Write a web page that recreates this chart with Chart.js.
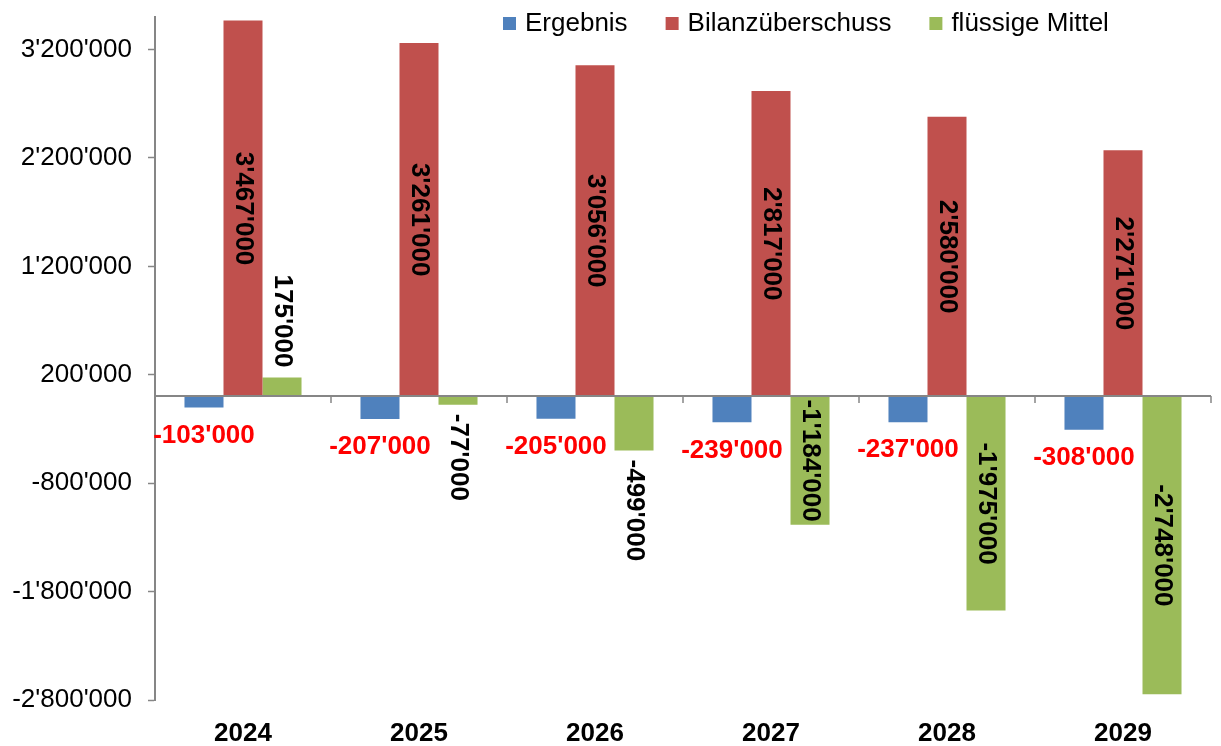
<!DOCTYPE html>
<html>
<head>
<meta charset="utf-8">
<script src="https://cdn.jsdelivr.net/npm/chart.js@4/dist/chart.umd.min.js"></script>
<style>
  html, body { margin: 0; padding: 0; background: #ffffff; }
  #wrap { width: 1221px; height: 746px; }
</style>
</head>
<body>
<div id="wrap"><canvas id="c" width="1221" height="746"></canvas></div>
<script>
const categories = ['2024', '2025', '2026', '2027', '2028', '2029'];
const seriesNames = ['Ergebnis', 'Bilanzüberschuss', 'flüssige Mittel'];
const ergebnis = [-103000, -207000, -205000, -239000, -237000, -308000];
const bilanzueberschuss = [3467000, 3261000, 3056000, 2817000, 2580000, 2271000];
const fluessigeMittel = [175000, -77000, -499000, -1184000, -1975000, -2748000];
const yTicks = [-2800000, -1800000, -800000, 200000, 1200000, 2200000, 3200000];
const yMin = -2800000;
const yMax = 3500000;

const colors = ['#4F81BD', '#C0504D', '#9BBB59'];
const FONT = "'Liberation Sans', Arial, sans-serif";

function fmt(v) {
  const s = Math.abs(Math.round(v)).toString().replace(/\B(?=(\d{3})+(?!\d))/g, "'");
  return (v < 0 ? '-' : '') + s;
}

const zeroLinePlugin = {
  id: 'zeroLine',
  afterDatasetsDraw(chart) {
    const ctx = chart.ctx;
    const y = chart.scales.y;
    const area = chart.chartArea;
    const y0 = Math.round(y.getPixelForValue(0));
    ctx.save();
    ctx.strokeStyle = '#868686';
    ctx.lineWidth = 2;
    ctx.beginPath();
    ctx.moveTo(area.left, y0);
    ctx.lineTo(area.right, y0);
    ctx.stroke();
    ctx.lineWidth = 1.5;
    const n = categories.length;
    const w = (area.right - area.left) / n;
    ctx.beginPath();
    for (let i = 0; i <= n; i++) {
      const px = area.left + i * w;
      ctx.moveTo(px, y0);
      ctx.lineTo(px, y0 + 7);
    }
    ctx.stroke();
    ctx.restore();
  }
};

const labelPlugin = {
  id: 'barLabels',
  afterDatasetsDraw(chart) {
    const ctx = chart.ctx;
    ctx.save();
    ctx.font = 'bold 26px ' + FONT;
    chart.data.datasets.forEach((ds, di) => {
      const meta = chart.getDatasetMeta(di);
      meta.data.forEach((el, i) => {
        const v = ds.data[i];
        const text = fmt(v);
        if (di === 0) {
          ctx.fillStyle = '#FF0000';
          ctx.textAlign = 'center';
          ctx.textBaseline = 'middle';
          ctx.fillText(text, el.x, Math.max(el.y, el.base) + 28);
        } else {
          ctx.fillStyle = '#000000';
          const tw = ctx.measureText(text).width;
          const h = Math.abs(el.base - el.y);
          let cy;
          if (tw <= h) {
            cy = (el.y + el.base) / 2;
          } else if (v >= 0) {
            cy = el.y - 10 - tw / 2;
          } else {
            cy = el.y + 9 + tw / 2;
          }
          ctx.save();
          ctx.translate(el.x, cy);
          ctx.rotate(Math.PI / 2);
          ctx.textAlign = 'center';
          ctx.textBaseline = 'middle';
          ctx.fillText(text, 0, 0);
          ctx.restore();
        }
      });
    });
    ctx.restore();
  }
};

const legendPlugin = {
  id: 'topLegend',
  afterDraw(chart) {
    const ctx = chart.ctx;
    ctx.save();
    ctx.font = '26px ' + FONT;
    ctx.textAlign = 'left';
    ctx.textBaseline = 'alphabetic';
    let x = 503;
    chart.data.datasets.forEach((ds) => {
      ctx.fillStyle = ds.backgroundColor;
      ctx.fillRect(x, 17, 13, 13);
      ctx.fillStyle = '#000000';
      ctx.fillText(ds.label, x + 22, 31);
      x += 22 + ctx.measureText(ds.label).width + 38;
    });
    ctx.restore();
  }
};

new Chart(document.getElementById('c'), {
  type: 'bar',
  data: {
    labels: categories,
    datasets: [
      { label: seriesNames[0], data: ergebnis, backgroundColor: colors[0] },
      { label: seriesNames[1], data: bilanzueberschuss, backgroundColor: colors[1] },
      { label: seriesNames[2], data: fluessigeMittel, backgroundColor: colors[2] }
    ]
  },
  options: {
    responsive: false,
    animation: false,
    devicePixelRatio: 1,
    categoryPercentage: 0.665,
    barPercentage: 1.0,
    layout: { padding: { top: 17, right: 10, left: 0, bottom: 0 } },
    plugins: {
      legend: { display: false },
      tooltip: { enabled: false }
    },
    scales: {
      x: {
        grid: { display: false, drawTicks: false },
        border: { display: false },
        ticks: {
          color: '#000000',
          font: { family: FONT, size: 26, weight: 'bold' },
          padding: 18,
          maxRotation: 0
        },
        afterFit(s) { s.height = 46; s.paddingLeft = 0; s.paddingRight = 0; }
      },
      y: {
        min: yMin,
        max: yMax,
        afterBuildTicks(s) { s.ticks = yTicks.map(v => ({ value: v })); },
        grid: {
          drawOnChartArea: false,
          drawTicks: true,
          tickLength: 7,
          tickWidth: 1.5,
          tickColor: '#868686'
        },
        border: { display: true, color: '#868686', width: 2 },
        ticks: {
          color: '#000000',
          font: { family: FONT, size: 26 },
          padding: 16,
          callback: (v) => fmt(v)
        },
        afterFit(s) { s.width = 155; s.paddingTop = 0; s.paddingBottom = 0; }
      }
    }
  },
  plugins: [zeroLinePlugin, labelPlugin, legendPlugin]
});
</script>
</body>
</html>
